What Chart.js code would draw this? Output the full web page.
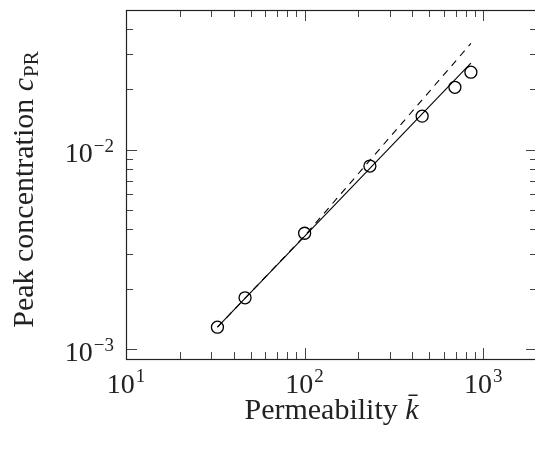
<!DOCTYPE html>
<html lang="en">
<head>
    <meta charset="UTF-8">
    <title>Peak concentration vs permeability</title>
    <style>
        html, body {
            margin: 0;
            padding: 0;
            background: #fff;
            overflow: hidden;
        }
        #wrap {
            width: 545px;
            height: 449px;
        }
    </style>
    <script src="https://cdn.jsdelivr.net/npm/chart.js"></script>
</head>
<body>
    <div id="wrap">
        <canvas id="myCanvas" width="545" height="449"></canvas>
    </div>

    <script>
        "use strict";

        // measured points (open circles)
        const permeability = [32.5, 46.4, 100, 232, 455, 694, 853];
        const peakConc = [0.00129, 0.00181, 0.00381, 0.00827, 0.0147, 0.0205, 0.0244];

        // solid fit line (end points)
        const fitK = [32.5, 853];
        const fitPeak = [0.00129, 0.0271];
        // dashed reference curve, follows the fit up to ~100 then bends up
        const refK = [32.5, 100, 853];
        const refPeak = [0.00129, 0.00370, 0.0340];

        // axis ticks
        const xMajor = [10, 100, 1000];
        const xMajorExp = ['1', '2', '3'];
        const xMinor = [20, 30, 40, 50, 60, 70, 80, 90, 200, 300, 400, 500, 600, 700, 800, 900, 2000];
        const yMajor = [0.001, 0.01];
        const yMajorExp = ['\u22123', '\u22122'];
        const yMinor = [0.002, 0.003, 0.004, 0.005, 0.006, 0.007, 0.008, 0.009, 0.02, 0.03, 0.04, 0.05];

        const FONT = "'Liberation Serif', 'DejaVu Serif', serif";

        function toPoints(xs, ys) {
            return xs.map((x, i) => ({ x: x, y: ys[i] }));
        }

        // frame, inward ticks and math-style labels
        const axesPlugin = {
            id: 'pgfAxes',
            afterDraw(chart) {
                const ctx = chart.ctx;
                const a = chart.chartArea;
                const xs = chart.scales.x;
                const ys = chart.scales.y;
                const L = a.left, R = a.right, T = a.top, B = a.bottom;

                ctx.save();

                // ticks
                ctx.strokeStyle = '#444';
                ctx.lineWidth = 1;
                function xTick(v, len) {
                    const px = Math.round(xs.getPixelForValue(v)) + 0.5;
                    ctx.beginPath();
                    ctx.moveTo(px, B); ctx.lineTo(px, B - len);
                    ctx.moveTo(px, T); ctx.lineTo(px, T + len);
                    ctx.stroke();
                }
                function yTick(v, len) {
                    const py = Math.round(ys.getPixelForValue(v)) + 0.5;
                    ctx.beginPath();
                    ctx.moveTo(L, py); ctx.lineTo(L + len, py);
                    ctx.moveTo(R, py); ctx.lineTo(R - len, py);
                    ctx.stroke();
                }
                xMinor.forEach(v => xTick(v, 7));
                xMajor.forEach(v => xTick(v, 11));
                yMinor.forEach(v => yTick(v, 7));
                yMajor.forEach(v => yTick(v, 11));

                // frame
                ctx.strokeStyle = '#222';
                ctx.lineWidth = 1.2;
                ctx.strokeRect(Math.round(L) + 0.5, Math.round(T) + 0.5,
                    Math.round(R - L), Math.round(B - T));

                ctx.fillStyle = '#222';
                ctx.textBaseline = 'alphabetic';
                ctx.textAlign = 'left';

                const bigFont = '28px ' + FONT;
                const supFont = '19px ' + FONT;

                // x tick labels
                xMajor.forEach((v, i) => {
                    ctx.font = bigFont;
                    const w1 = ctx.measureText('10').width;
                    ctx.font = supFont;
                    const w2 = ctx.measureText(xMajorExp[i]).width;
                    const cx = xs.getPixelForValue(v);
                    const x0 = cx - (w1 + w2 + 1) / 2;
                    ctx.font = bigFont;
                    ctx.fillText('10', x0, 393);
                    ctx.font = supFont;
                    ctx.fillText(xMajorExp[i], x0 + w1 + 1, 382);
                });

                // y tick labels
                yMajor.forEach((v, i) => {
                    ctx.font = bigFont;
                    const w1 = ctx.measureText('10').width;
                    ctx.font = supFont;
                    const w2 = ctx.measureText(yMajorExp[i]).width;
                    const cy = ys.getPixelForValue(v);
                    const xr = 114;
                    const x0 = xr - w2 - 1 - w1;
                    ctx.font = bigFont;
                    ctx.fillText('10', x0, cy + 12);
                    ctx.font = supFont;
                    ctx.fillText(yMajorExp[i], x0 + w1 + 1, cy + 2);
                });

                // x title: Permeability k-bar
                const tFont = '30px ' + FONT;
                const tItal = 'italic 30px ' + FONT;
                ctx.font = tFont;
                const xa = 'Permeability ';
                const wa = ctx.measureText(xa).width;
                ctx.font = tItal;
                const wk = ctx.measureText('k').width;
                const xc = (L + R) / 2;
                const xStart = xc - (wa + wk) / 2;
                ctx.font = tFont;
                ctx.fillText(xa, xStart, 419);
                ctx.font = tItal;
                ctx.fillText('k\u0304', xStart + wa, 419);

                // y title: Peak concentration c_PR
                const subFont = '21px ' + FONT;
                ctx.font = tFont;
                const ya = 'Peak concentration ';
                const wya = ctx.measureText(ya).width;
                ctx.font = tItal;
                const wc = ctx.measureText('c').width;
                ctx.font = subFont;
                const wpr = ctx.measureText('PR').width;
                const total = wya + wc + 1 + wpr;
                ctx.translate(33, (T + B) / 2 + 5);
                ctx.rotate(-Math.PI / 2);
                let p = -total / 2;
                ctx.font = tFont;
                ctx.fillText(ya, p, 0);
                p += wya;
                ctx.font = tItal;
                ctx.fillText('c', p, 0);
                p += wc + 1;
                ctx.font = subFont;
                ctx.fillText('PR', p, 5);

                ctx.restore();
            }
        };

        const ctx = document.getElementById('myCanvas').getContext('2d');

        const chart = new Chart(ctx, {
            type: 'scatter',
            data: {
                datasets: [
                    {
                        label: 'fit',
                        data: toPoints(fitK, fitPeak),
                        showLine: true,
                        borderColor: '#000',
                        borderWidth: 1.1,
                        pointRadius: 0,
                        fill: false
                    },
                    {
                        label: 'reference',
                        data: toPoints(refK, refPeak),
                        showLine: true,
                        borderColor: '#000',
                        borderWidth: 1.1,
                        borderDash: [7, 6],
                        pointRadius: 0,
                        fill: false
                    },
                    {
                        label: 'data',
                        data: toPoints(permeability, peakConc),
                        showLine: false,
                        pointStyle: 'circle',
                        pointRadius: 6,
                        pointBorderWidth: 1.3,
                        pointBorderColor: '#000',
                        pointBackgroundColor: 'rgba(0,0,0,0)'
                    }
                ]
            },
            options: {
                responsive: false,
                animation: false,
                layout: {
                    padding: { left: 0, right: 8, top: 10, bottom: 0 }
                },
                plugins: {
                    legend: { display: false },
                    tooltip: { enabled: false }
                },
                scales: {
                    x: {
                        type: 'logarithmic',
                        min: 10,
                        max: 2000,
                        bounds: 'data',
                        ticks: { display: false },
                        grid: { display: false },
                        border: { display: false },
                        afterFit(scale) { scale.height = 90; }
                    },
                    y: {
                        type: 'logarithmic',
                        min: 0.000894,
                        max: 0.05,
                        bounds: 'data',
                        ticks: { display: false },
                        grid: { display: false },
                        border: { display: false },
                        afterFit(scale) { scale.width = 126; }
                    }
                }
            },
            plugins: [axesPlugin]
        });
    </script>
</body>
</html>
